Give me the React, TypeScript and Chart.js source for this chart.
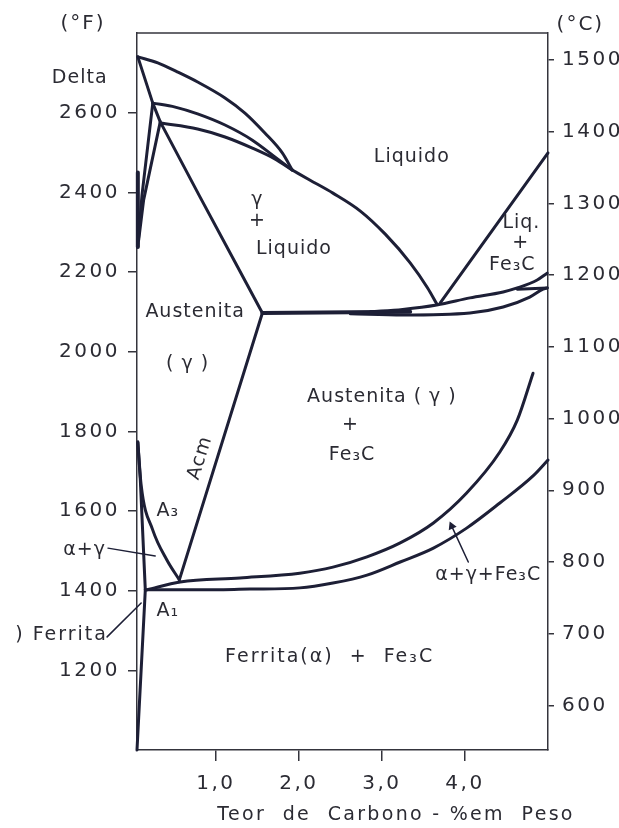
import React, { useEffect, useRef } from "react";
import { Chart, registerables } from "chart.js";

Chart.register(...registerables);

// ---------- data (x: % carbon by weight, y: temperature in °F) ----------
const deltaLiquidusX = [0.06, 0.3, 0.54, 0.78, 1.11, 1.35, 1.59, 1.8, 1.92];
const deltaLiquidusF = [2740, 2725, 2702, 2677, 2637, 2599, 2549, 2499, 2456];

const liquidusX = [1.92, 2.13, 2.41, 2.74, 3.04, 3.34, 3.55, 3.66];
const liquidusF = [2456, 2431, 2398, 2353, 2295, 2223, 2160, 2120];

const periUpperX = [0.24, 0.51, 0.78, 1.11, 1.44, 1.71, 1.92];
const periUpperF = [2624, 2614, 2597, 2569, 2531, 2489, 2456];

const periLowerX = [0.33, 0.78, 1.11, 1.44, 1.71, 1.92];
const periLowerF = [2574, 2559, 2539, 2511, 2484, 2456];

const solidusX = [0.06, 0.24, 0.33, 0.81, 1.23, 1.56];
const solidusF = [2740, 2624, 2577, 2388, 2225, 2097];

const deltaAX = [0.24, 0.11, 0.06];
const deltaAF = [2624, 2393, 2263];
const deltaBX = [0.33, 0.13, 0.07];
const deltaBF = [2577, 2381, 2280];
const deltaEdgeX = [0.06, 0.06];
const deltaEdgeF = [2450, 2263];

const eutecticX = [1.56, 3.34];
const eutecticF = [2097, 2100];
const lensUpperX = [2.86, 3.25, 3.66, 4.06, 4.46, 4.63, 4.87, 4.99];
const lensUpperF = [2100, 2106, 2117, 2135, 2150, 2160, 2180, 2197];
const lensLowerX = [2.62, 3.25, 4.06, 4.46, 4.78, 4.94, 4.99];
const lensLowerF = [2095, 2092, 2097, 2112, 2137, 2157, 2160];
const lensMidX = [4.63, 4.99];
const lensMidF = [2157, 2160];

const hyperLiquidusX = [3.7, 5.0];
const hyperLiquidusF = [2122, 2499];

const acmX = [1.56, 0.56];
const acmF = [2097, 1427];

const a3X = [0.06, 0.1, 0.24, 0.41, 0.56];
const a3F = [1773, 1665, 1552, 1477, 1427];

const alphaBoundX = [0.06, 0.09, 0.15];
const alphaBoundF = [1773, 1678, 1402];

const lowerA1X = [0.15, 0.81, 1.41, 2.01, 2.41, 2.82, 3.22, 3.62, 4.02, 4.42, 4.82, 5.0];
const lowerA1F = [1402, 1402, 1404, 1407, 1419, 1439, 1472, 1507, 1557, 1620, 1688, 1728];

const upperA1X = [0.17, 0.57, 1.29, 2.01, 2.41, 2.82, 3.22, 3.62, 4.02, 4.42, 4.63, 4.82];
const upperA1F = [1402, 1422, 1432, 1444, 1459, 1485, 1520, 1570, 1645, 1748, 1828, 1946];

const ferriteSolvusX = [0.15, 0.05];
const ferriteSolvusF = [1402, 1000];

const ptrAlphaGammaX = [-0.3, 0.27];
const ptrAlphaGammaF = [1507, 1487];
const ptrFerritaX = [-0.31, 0.1];
const ptrFerritaF = [1284, 1369];
const ptrTripleX = [4.04, 3.84];
const ptrTripleF = [1472, 1562];

// ticks
const xTickValues = [1, 2, 3, 4];
const xTickLabels = ["1,0", "2,0", "3,0", "4,0"];
const fTickValues = [1200, 1400, 1600, 1800, 2000, 2200, 2400, 2600];
const cTickValues = [600, 700, 800, 900, 1000, 1100, 1200, 1300, 1400, 1500];

// region labels (text, %C, °F)
const labelTexts = [
  "(°F)", "(°C)", "Delta", "Liquido", "γ", "+", "Liquido", "Liq.", "+", "Fe₃C",
  "Austenita", "( γ )", "A₃", "α+γ", "A₁", "(α) Ferrita", "Austenita ( γ )", "+", "Fe₃C",
  "α+γ+Fe₃C", "Ferrita(α)  +  Fe₃C", "Teor  de  Carbono - %em  Peso", "Acm",
];
const labelX = [-0.6, 5.39, -0.64, 3.36, 1.5, 1.5, 1.94, 4.68, 4.67, 4.57, 0.75, 0.66, 0.42, -0.58, 0.42, -0.3, 3.0, 2.62, 2.64, 4.28, 2.37, 3.17, 0.81];
const labelF = [2823, 2820, 2687, 2489, 2381, 2328, 2258, 2323, 2273, 2218, 2100, 1969, 1600, 1502, 1349, 1289, 1886, 1816, 1741, 1439, 1233, 837, 1733];

const LINE = "#1d1f36";
const TEXT = "#2b2b33";
const AXIS = "#34343c";
const FONT = "'DejaVu Sans', sans-serif";

function pts(xs: number[], ys: number[]) {
  return xs.map((x, i) => ({ x, y: ys[i] }));
}

function line(xs: number[], ys: number[], width = 3, smooth = false, extra: any = {}) {
  return {
    data: pts(xs, ys),
    showLine: true,
    borderColor: LINE,
    backgroundColor: LINE,
    borderWidth: width,
    pointRadius: 0,
    tension: smooth ? 0.4 : 0,
    cubicInterpolationMode: smooth ? "monotone" : "default",
    clip: false,
    borderCapStyle: "round",
    borderJoinStyle: "round",
    ...extra,
  };
}

const labelPlugin = {
  id: "labels",
  afterDraw(chart: any) {
    const ctx = chart.ctx;
    const xs = chart.scales.x;
    const ys = chart.scales.y;
    const ca = chart.chartArea;
    // top border of the frame
    ctx.save();
    ctx.strokeStyle = AXIS;
    ctx.lineWidth = 1.5;
    ctx.beginPath();
    ctx.moveTo(ca.left, ca.top);
    ctx.lineTo(ca.right, ca.top);
    ctx.stroke();
    ctx.restore();

    labelTexts.forEach((t, i) => {
      const px = xs.getPixelForValue(labelX[i]);
      const py = ys.getPixelForValue(labelF[i]);
      ctx.save();
      ctx.fillStyle = TEXT;
      ctx.textBaseline = "middle";
      ctx.textAlign = "center";
      let size = 19;
      let spacing = "1px";
      if (t.startsWith("Teor")) { size = 19; spacing = "2.3px"; }
      if (t.startsWith("Ferrita")) { spacing = "2px"; }
      if (t === "(°F)" || t === "(°C)") { size = 20; spacing = "2px"; }
      ctx.font = `${size}px ${FONT}`;
      (ctx as any).letterSpacing = spacing;
      if (t === "(α) Ferrita") {
        (ctx as any).letterSpacing = "2px";
        ctx.beginPath();
        ctx.rect(13, 0, 2000, 2000);
        ctx.clip();
        ctx.textAlign = "right";
      }
      ctx.translate(px, py);
      if (t === "Acm") ctx.rotate((-72.7 * Math.PI) / 180);
      ctx.fillText(t, 0, 0);
      ctx.restore();
    });
  },
};

const spacingPlugin = {
  id: "spacing",
  beforeDraw(chart: any) {
    (chart.ctx as any).letterSpacing = "2.5px";
  },
};

export default function App() {
  const ref = useRef<HTMLCanvasElement | null>(null);
  useEffect(() => {
    if (!ref.current) return;
    const tickFont = { family: FONT, size: 20 };
    const chart = new Chart(ref.current, {
      type: "scatter",
      data: {
        datasets: [
          line(deltaLiquidusX, deltaLiquidusF, 3, true),
          line(liquidusX, liquidusF, 3, true),
          line(periUpperX, periUpperF, 3, true),
          line(periLowerX, periLowerF, 3, true),
          line(solidusX, solidusF, 3),
          line(deltaAX, deltaAF, 3),
          line(deltaBX, deltaBF, 3),
          line(deltaEdgeX, deltaEdgeF, 4),
          line(eutecticX, eutecticF, 4),
          line(lensUpperX, lensUpperF, 3, true),
          line(lensLowerX, lensLowerF, 3, true),
          line(lensMidX, lensMidF, 3),
          line(hyperLiquidusX, hyperLiquidusF, 3),
          line(acmX, acmF, 3),
          line(a3X, a3F, 3, true),
          line(alphaBoundX, alphaBoundF, 3),
          line(lowerA1X, lowerA1F, 3, true),
          line(upperA1X, upperA1F, 3, true),
          line(ferriteSolvusX, ferriteSolvusF, 3),
          line(ptrAlphaGammaX, ptrAlphaGammaF, 1.3),
          line(ptrFerritaX, ptrFerritaF, 1.5),
          line(ptrTripleX, ptrTripleF, 1.5, false, {
            pointRadius: [0, 3.5],
            pointStyle: "triangle",
            rotation: -24,
          }),
        ] as any,
      },
      options: {
        animation: false,
        responsive: false,
        events: [],
        layout: { padding: { top: 33, left: 0, right: 0, bottom: 0 } },
        plugins: { legend: { display: false }, tooltip: { enabled: false } },
        scales: {
          x: {
            type: "linear",
            min: 0.05,
            max: 5.0,
            afterFit: (s: any) => { s.height = 78; },
            afterBuildTicks: (s: any) => { s.ticks = xTickValues.map((v) => ({ value: v })); },
            ticks: {
              color: TEXT,
              font: tickFont,
              padding: 11,
              callback: (v: any) => xTickLabels[xTickValues.indexOf(Number(v))] ?? "",
            },
            grid: { drawOnChartArea: false, drawTicks: true, tickLength: 11, color: AXIS, lineWidth: 1.5 },
            border: { display: true, color: AXIS, width: 1.5 },
          },
          y: {
            type: "linear",
            position: "left",
            min: 1000,
            max: 2800,
            afterFit: (s: any) => { s.width = 137; },
            afterBuildTicks: (s: any) => { s.ticks = fTickValues.map((v) => ({ value: v })); },
            ticks: { color: TEXT, font: tickFont, padding: 8, callback: (v: any) => String(v) },
            grid: { drawOnChartArea: false, drawTicks: true, tickLength: 9, color: AXIS, lineWidth: 1.5 },
            border: { display: true, color: AXIS, width: 1.5 },
          },
          y2: {
            type: "linear",
            position: "right",
            min: (1000 - 32) / 1.8,
            max: (2800 - 32) / 1.8,
            afterFit: (s: any) => { s.width = 71; },
            afterBuildTicks: (s: any) => { s.ticks = cTickValues.map((v) => ({ value: v })); },
            ticks: { color: TEXT, font: tickFont, padding: 8, callback: (v: any) => String(v) },
            grid: { drawOnChartArea: false, drawTicks: true, tickLength: 6, color: AXIS, lineWidth: 1.5 },
            border: { display: true, color: AXIS, width: 1.5 },
          },
        },
      } as any,
      plugins: [spacingPlugin, labelPlugin],
    });
    return () => chart.destroy();
  }, []);

  return (
    <canvas
      ref={ref}
      width={619}
      height={828}
      style={{ position: "fixed", left: 0, top: 0, width: 619, height: 828, background: "#ffffff" }}
    />
  );
}
